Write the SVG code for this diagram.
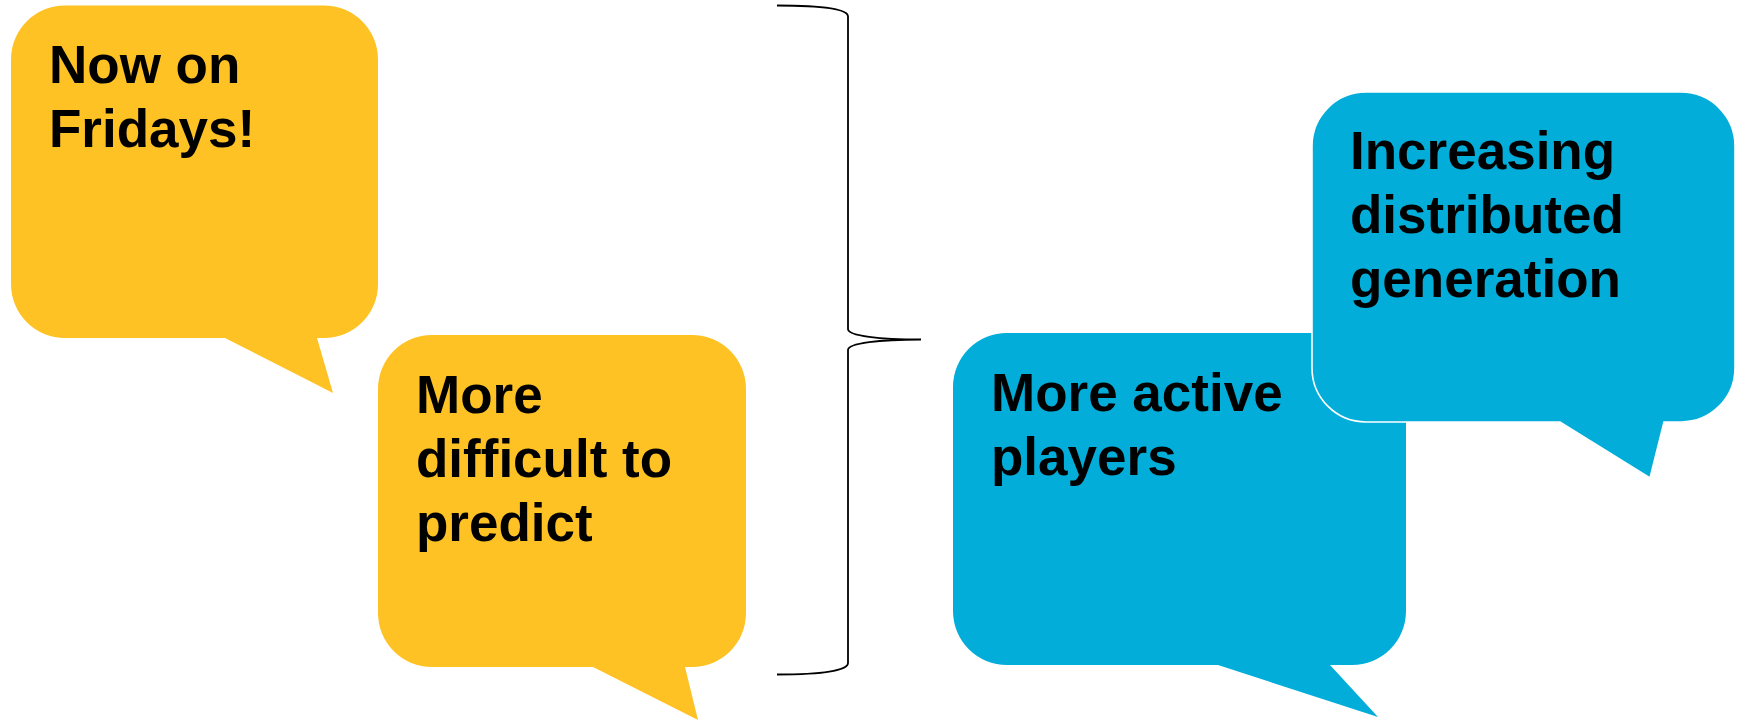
<svg xmlns="http://www.w3.org/2000/svg" width="1745" height="721" viewBox="0 0 1745 721">
<style>
.yel{fill:#FEC224;}
.blu{fill:#02AED9;}
.out{stroke:#FFFFFF;stroke-width:1.6;}
.t{font-family:"Liberation Sans",Arial,sans-serif;font-weight:bold;font-size:53px;fill:#000000;}
.brace{fill:none;stroke:#000000;stroke-width:1.8;}
</style>
<rect width="1745" height="721" fill="#FFFFFF"/>
<g id="bubble-fridays">
<path class="yel" d="M65,5.5 H324 A54,54 0 0 1 378,59.5 V284 A54,54 0 0 1 324,338 H317 L333,393 L225,338 H65 A54,54 0 0 1 11,284 V59.5 A54,54 0 0 1 65,5.5 Z"/>
<text class="t" x="49" y="83">Now on</text>
<text class="t" x="49" y="147">Fridays!</text>
</g>
<g id="bubble-predict">
<path class="yel" d="M432,335 H692 A54,54 0 0 1 746,389 V613 A54,54 0 0 1 692,667 H685 L698,720 L593,667 H432 A54,54 0 0 1 378,613 V389 A54,54 0 0 1 432,335 Z"/>
<text class="t" x="416" y="413">More</text>
<text class="t" x="416" y="477">difficult to</text>
<text class="t" x="416" y="541">predict</text>
</g>
<g id="connectors">
<path class="brace" d="M777,5.5 C822,5.5 848,9 848,16.5 L848,329 C848,336 880,339.5 921,339.5 C880,339.5 848,343 848,350 L848,663 C848,670.5 822,674.5 777,674.5"/>
</g>
<g id="bubble-players">
<path class="blu" d="M1007,333 H1352 A54,54 0 0 1 1406,387 V611 A54,54 0 0 1 1352,665 H1330 L1378,717 L1218,665 H1007 A54,54 0 0 1 953,611 V387 A54,54 0 0 1 1007,333 Z"/>
<text class="t" x="991" y="411">More active</text>
<text class="t" x="991" y="475">players</text>
</g>
<g id="bubble-generation">
<path class="blu out" d="M1366,92 H1681 A54,54 0 0 1 1735,146 V368 A54,54 0 0 1 1681,422 H1664 L1650,478 L1560,422 H1366 A54,54 0 0 1 1312,368 V146 A54,54 0 0 1 1366,92 Z"/>
<text class="t" x="1350" y="169">Increasing</text>
<text class="t" x="1350" y="233">distributed</text>
<text class="t" x="1350" y="297">generation</text>
</g>
</svg>
